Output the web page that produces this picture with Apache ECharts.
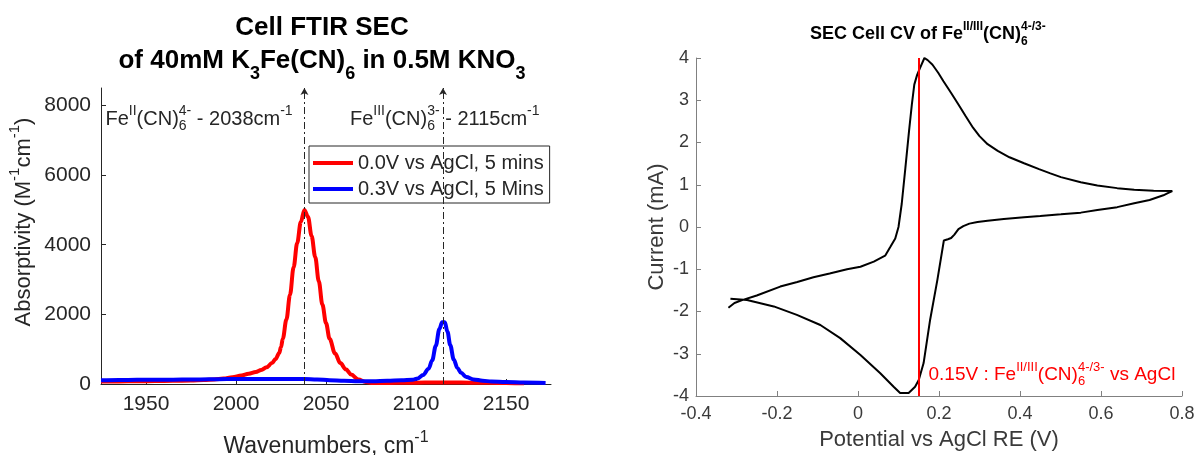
<!DOCTYPE html>
<html>
<head>
<meta charset="utf-8">
<script src="https://cdn.jsdelivr.net/npm/echarts@6/dist/echarts.min.js"></script>
<style>
  html, body { margin: 0; padding: 0; background: #fff; }
  #c { width: 1197px; height: 455px; }
</style>
</head>
<body>
<div id="c"></div>
<script>
const FONT = '"Liberation Sans", Arial, Helvetica, sans-serif';

// ---- FTIR spectro-electrochemistry: wavenumber (cm^-1) vs absorptivity (M^-1 cm^-1)
const redWavenumbers = [1925, 1935, 1945, 1955, 1965, 1975, 1982, 1988, 1993, 1998, 2003, 2007, 2011, 2014, 2017, 2020, 2022, 2024, 2025, 2026, 2028, 2030, 2032, 2034, 2036, 2038, 2040, 2042, 2044, 2046, 2048, 2050, 2052, 2055, 2058, 2061, 2064, 2068, 2072, 2076, 2085, 2095, 2105, 2115, 2125, 2135, 2145, 2155, 2160];
const redAbsorptivity = [70, 75, 80, 85, 92, 100, 112, 128, 155, 195, 245, 295, 345, 400, 480, 600, 720, 890, 1060, 1300, 1850, 2560, 3350, 4050, 4650, 5000, 4800, 4250, 3650, 2950, 2280, 1750, 1300, 880, 600, 420, 270, 130, 60, 30, 30, 35, 40, 45, 40, 35, 30, 25, 25];

const blueWavenumbers = [1925, 1935, 1945, 1955, 1965, 1975, 1985, 1995, 2005, 2015, 2025, 2033, 2038, 2045, 2052, 2060, 2068, 2076, 2084, 2092, 2098, 2101, 2104, 2107, 2109, 2111, 2113, 2114.5, 2116, 2117.5, 2119, 2121, 2123, 2125, 2128, 2132, 2137, 2142, 2150, 2160, 2172];
const blueAbsorptivity = [105, 115, 120, 125, 125, 130, 135, 140, 140, 140, 140, 145, 145, 130, 110, 90, 80, 80, 90, 105, 125, 160, 260, 440, 680, 1100, 1580, 1770, 1770, 1500, 1120, 700, 460, 320, 200, 130, 95, 70, 55, 40, 30];

const redLegend = '0.0V vs AgCl, 5 mins';
const blueLegend = '0.3V vs AgCl, 5 Mins';
const peakFeII = 2038;
const peakFeIII = 2115;
const ftirXTicks = [1950, 2000, 2050, 2100, 2150];
const ftirYTicks = [0, 2000, 4000, 6000, 8000];

// ---- Cyclic voltammogram: potential (V vs AgCl) and current (mA)
const cvPotential = [-0.320, -0.305, -0.286, -0.250, -0.192, -0.150, -0.110, -0.070, -0.027, 0.006, 0.039, 0.067, 0.080, 0.092, 0.100, 0.108, 0.117, 0.126, 0.133, 0.139, 0.146, 0.153, 0.164, 0.172, 0.184, 0.198, 0.211, 0.230, 0.248, 0.266, 0.284, 0.300, 0.320, 0.345, 0.374, 0.410, 0.447, 0.475, 0.501, 0.550, 0.591, 0.640, 0.682, 0.730, 0.776, 0.765, 0.754, 0.720, 0.682, 0.640, 0.591, 0.550, 0.501, 0.450, 0.410, 0.360, 0.320, 0.295, 0.275, 0.260, 0.248, 0.238, 0.230, 0.222, 0.212, 0.196, 0.178, 0.162, 0.150, 0.141, 0.125, 0.104, 0.088, 0.055, 0.006, -0.044, -0.093, -0.151, -0.208, -0.274, -0.315];
const cvCurrent = [-1.91, -1.80, -1.73, -1.62, -1.41, -1.30, -1.19, -1.10, -1.00, -0.94, -0.82, -0.68, -0.47, -0.27, 0.00, 0.55, 1.40, 2.27, 2.90, 3.37, 3.60, 3.76, 4.00, 3.95, 3.84, 3.65, 3.45, 3.17, 2.90, 2.62, 2.35, 2.15, 1.96, 1.80, 1.65, 1.51, 1.37, 1.27, 1.18, 1.06, 0.98, 0.92, 0.88, 0.86, 0.85, 0.80, 0.75, 0.64, 0.56, 0.47, 0.40, 0.34, 0.30, 0.26, 0.23, 0.19, 0.15, 0.12, 0.08, 0.02, -0.05, -0.18, -0.26, -0.29, -0.32, -1.25, -2.20, -3.22, -3.62, -3.78, -3.93, -3.93, -3.78, -3.46, -3.03, -2.63, -2.32, -2.08, -1.88, -1.73, -1.70];
const formalPotential = 0.15;
const cvXTicks = [-0.4, -0.2, 0, 0.2, 0.4, 0.6, 0.8];
const cvYTicks = [-4, -3, -2, -1, 0, 1, 2, 3, 4];

const zip = (xs, ys) => xs.map((x, i) => [x, ys[i]]);
const plain = v => String(Math.round(v * 1000) / 1000);

// Rich-text styles for chemical notation: superscripts, subscripts and a
// zero-width subscript so that the following superscript stacks above it.
function richSet(size, color, weight) {
  const small = Math.round(size * 0.7);
  const base = { fontFamily: FONT, fontWeight: weight || 'normal', color: color, fill: color };
  return {
    m: Object.assign({}, base, { fontSize: size, lineHeight: Math.round(size * 2) }),
    sup: Object.assign({}, base, { fontSize: small, lineHeight: small, padding: [0, 0, Math.round(size * 0.8), 0] }),
    sub: Object.assign({}, base, { fontSize: small, lineHeight: small, padding: [Math.round(size * 0.7), 0, 0, 0] }),
    subz: Object.assign({}, base, { fontSize: small, lineHeight: small, width: 0, padding: [Math.round(size * 0.7), 0, 0, 0] })
  };
}

const INK = '#262626';
const GREY = '#808080';

const chart = echarts.init(document.getElementById('c'), null, { renderer: 'canvas' });

const option = {
  animation: false,
  backgroundColor: '#fff',
  grid: [
    { left: 101, top: 88, width: 450, height: 296, containLabel: false, outerBoundsMode: 'none' },
    { left: 696, top: 58, width: 486, height: 338, containLabel: false, outerBoundsMode: 'none' }
  ],
  legend: {
    orient: 'vertical',
    left: 309, top: 146,
    data: [redLegend, blueLegend],
    icon: 'rect', itemWidth: 40, itemHeight: 4, itemGap: 6,
    padding: [7, 6, 4, 4],
    borderColor: INK, borderWidth: 1, borderRadius: 0, backgroundColor: '#fff',
    textStyle: { fontFamily: FONT, fontSize: 20, color: INK },
    selectedMode: false
  },
  xAxis: [
    {
      gridIndex: 0, type: 'value', min: 1925, max: 2175,
      axisLine: { onZero: false, lineStyle: { color: INK, width: 1 } },
      axisTick: { inside: true, length: 5, customValues: ftirXTicks, lineStyle: { color: INK } },
      axisLabel: { customValues: ftirXTicks, formatter: plain, fontFamily: FONT, fontSize: 21, color: INK, margin: 10 },
      splitLine: { show: false },
      name: '{m|Wavenumbers, cm}{sup|-1}',
      nameLocation: 'middle', nameGap: 40,
      nameTextStyle: { rich: richSet(23, INK) }
    },
    {
      gridIndex: 1, type: 'value', min: -0.4, max: 0.8,
      axisLine: { onZero: false, lineStyle: { color: GREY, width: 1 } },
      axisTick: { inside: true, length: 5, customValues: cvXTicks, lineStyle: { color: GREY } },
      axisLabel: { customValues: cvXTicks, formatter: plain, fontFamily: FONT, fontSize: 18, color: '#3a3a3a', margin: 9 },
      splitLine: { show: false },
      name: 'Potential vs AgCl RE (V)',
      nameLocation: 'middle', nameGap: 33,
      nameTextStyle: { fontFamily: FONT, fontSize: 22, color: '#3a3a3a' }
    }
  ],
  yAxis: [
    {
      gridIndex: 0, type: 'value', min: 0, max: 8500,
      axisLine: { show: true, onZero: false, lineStyle: { color: INK, width: 1 } },
      axisTick: { show: true, inside: true, length: 5, customValues: ftirYTicks, lineStyle: { color: INK } },
      axisLabel: { customValues: ftirYTicks, formatter: plain, fontFamily: FONT, fontSize: 21, color: INK, margin: 10 },
      splitLine: { show: false },
      name: '{m|Absorptivity (M}{sup|-1}{m|cm}{sup|-1}{m|)}',
      nameLocation: 'middle', nameGap: 50, nameRotate: 90,
      nameTextStyle: { rich: richSet(22, INK), padding: [0, 0, 0, 28] }
    },
    {
      gridIndex: 1, type: 'value', min: -4, max: 4,
      axisLine: { show: true, onZero: false, lineStyle: { color: GREY, width: 1 } },
      axisTick: { show: true, inside: true, length: 5, customValues: cvYTicks, lineStyle: { color: GREY } },
      axisLabel: { customValues: cvYTicks, formatter: plain, fontFamily: FONT, fontSize: 18, color: '#3a3a3a', margin: 7 },
      splitLine: { show: false },
      name: 'Current (mA)',
      nameLocation: 'middle', nameGap: 28, nameRotate: 90,
      nameTextStyle: { fontFamily: FONT, fontSize: 22, color: '#3a3a3a' }
    }
  ],
  series: [
    {
      name: redLegend, type: 'line', xAxisIndex: 0, yAxisIndex: 0,
      data: zip(redWavenumbers, redAbsorptivity),
      showSymbol: false, symbol: 'none', smooth: 0.35, smoothMonotone: 'x',
      lineStyle: { color: '#ff0000', width: 4 }, itemStyle: { color: '#ff0000' },
      markLine: {
        silent: true, symbol: ['none', 'arrow'], symbolSize: [6, 7],
        label: { show: false },
        lineStyle: { color: INK, width: 1, type: [7, 3, 2, 3] },
        data: [{ xAxis: peakFeII }, { xAxis: peakFeIII }]
      }
    },
    {
      name: blueLegend, type: 'line', xAxisIndex: 0, yAxisIndex: 0,
      data: zip(blueWavenumbers, blueAbsorptivity),
      showSymbol: false, symbol: 'none', smooth: 0.35, smoothMonotone: 'x',
      lineStyle: { color: '#0000ff', width: 4 }, itemStyle: { color: '#0000ff' }
    },
    {
      name: 'CV', type: 'line', xAxisIndex: 1, yAxisIndex: 1,
      data: zip(cvPotential, cvCurrent),
      showSymbol: false, symbol: 'none', smooth: false,
      lineStyle: { color: '#000', width: 2 }, itemStyle: { color: '#000' },
      markLine: {
        silent: true, symbol: ['none', 'none'],
        label: { show: false },
        lineStyle: { color: '#ff0000', width: 2, type: 'solid' },
        data: [{ xAxis: formalPotential }]
      }
    }
  ]
};

chart.setOption(option);

// Annotation anchors in data coordinates (left edge, vertical middle of the text line)
const annFeII = [1927.5, 7600];
const annFeIII = [2063.3, 7600];
const annCV = [0.174, -3.5];

const pFeII = chart.convertToPixel({ gridIndex: 0 }, annFeII);
const pFeIII = chart.convertToPixel({ gridIndex: 0 }, annFeIII);
const pCV = chart.convertToPixel({ gridIndex: 1 }, annCV);

const titleRich = {
  b: { fontFamily: FONT, fontWeight: 'bold', fontSize: 26, lineHeight: 52, color: '#000', fill: '#000' },
  bsub: { fontFamily: FONT, fontWeight: 'bold', fontSize: 18, lineHeight: 18, padding: [26, 0, 0, 0], color: '#000', fill: '#000' }
};
const cvTitleRich = {
  b: { fontFamily: FONT, fontWeight: 'bold', fontSize: 18, lineHeight: 36, color: '#000', fill: '#000' },
  bsup: { fontFamily: FONT, fontWeight: 'bold', fontSize: 12, lineHeight: 12, padding: [0, 0, 14, 0], color: '#000', fill: '#000' },
  bsubz: { fontFamily: FONT, fontWeight: 'bold', fontSize: 12, lineHeight: 12, width: 0, padding: [16, 0, 0, 0], color: '#000', fill: '#000' }
};

const titleCenterX = 322;

chart.setOption({
  graphic: [
    {
      type: 'text', x: titleCenterX, y: 28, silent: true,
      style: { text: '{b|Cell FTIR SEC}', rich: titleRich, align: 'center', verticalAlign: 'middle' }
    },
    {
      type: 'text', x: titleCenterX, y: 61, silent: true,
      style: { text: '{b|of 40mM K}{bsub|3}{b|Fe(CN)}{bsub|6}{b| in 0.5M KNO}{bsub|3}', rich: titleRich, align: 'center', verticalAlign: 'middle' }
    },
    {
      type: 'text', x: 810, y: 34, silent: true,
      style: { text: '{b|SEC Cell CV of Fe}{bsup|II/III}{b|(CN)}{bsubz|6}{bsup|4-/3-}', rich: cvTitleRich, align: 'left', verticalAlign: 'middle' }
    },
    {
      type: 'text', x: pFeII[0], y: pFeII[1], silent: true,
      style: { text: '{m|Fe}{sup|II}{m|(CN)}{subz|6}{sup|4-}{m| - ' + peakFeII + 'cm}{sup|-1}', rich: richSet(20, INK), align: 'left', verticalAlign: 'middle' }
    },
    {
      type: 'text', x: pFeIII[0], y: pFeIII[1], silent: true,
      style: { text: '{m|Fe}{sup|III}{m|(CN)}{subz|6}{sup|3-}{m| - ' + peakFeIII + 'cm}{sup|-1}', rich: richSet(20, INK), align: 'left', verticalAlign: 'middle' }
    },
    {
      type: 'text', x: pCV[0], y: pCV[1], silent: true,
      style: { text: '{m|' + formalPotential.toFixed(2) + 'V : Fe}{sup|II/III}{m|(CN)}{subz|6}{sup|4-/3-}{m| vs AgCl}', rich: richSet(19, '#ff0000'), align: 'left', verticalAlign: 'middle' }
    }
  ]
});
</script>
</body>
</html>
